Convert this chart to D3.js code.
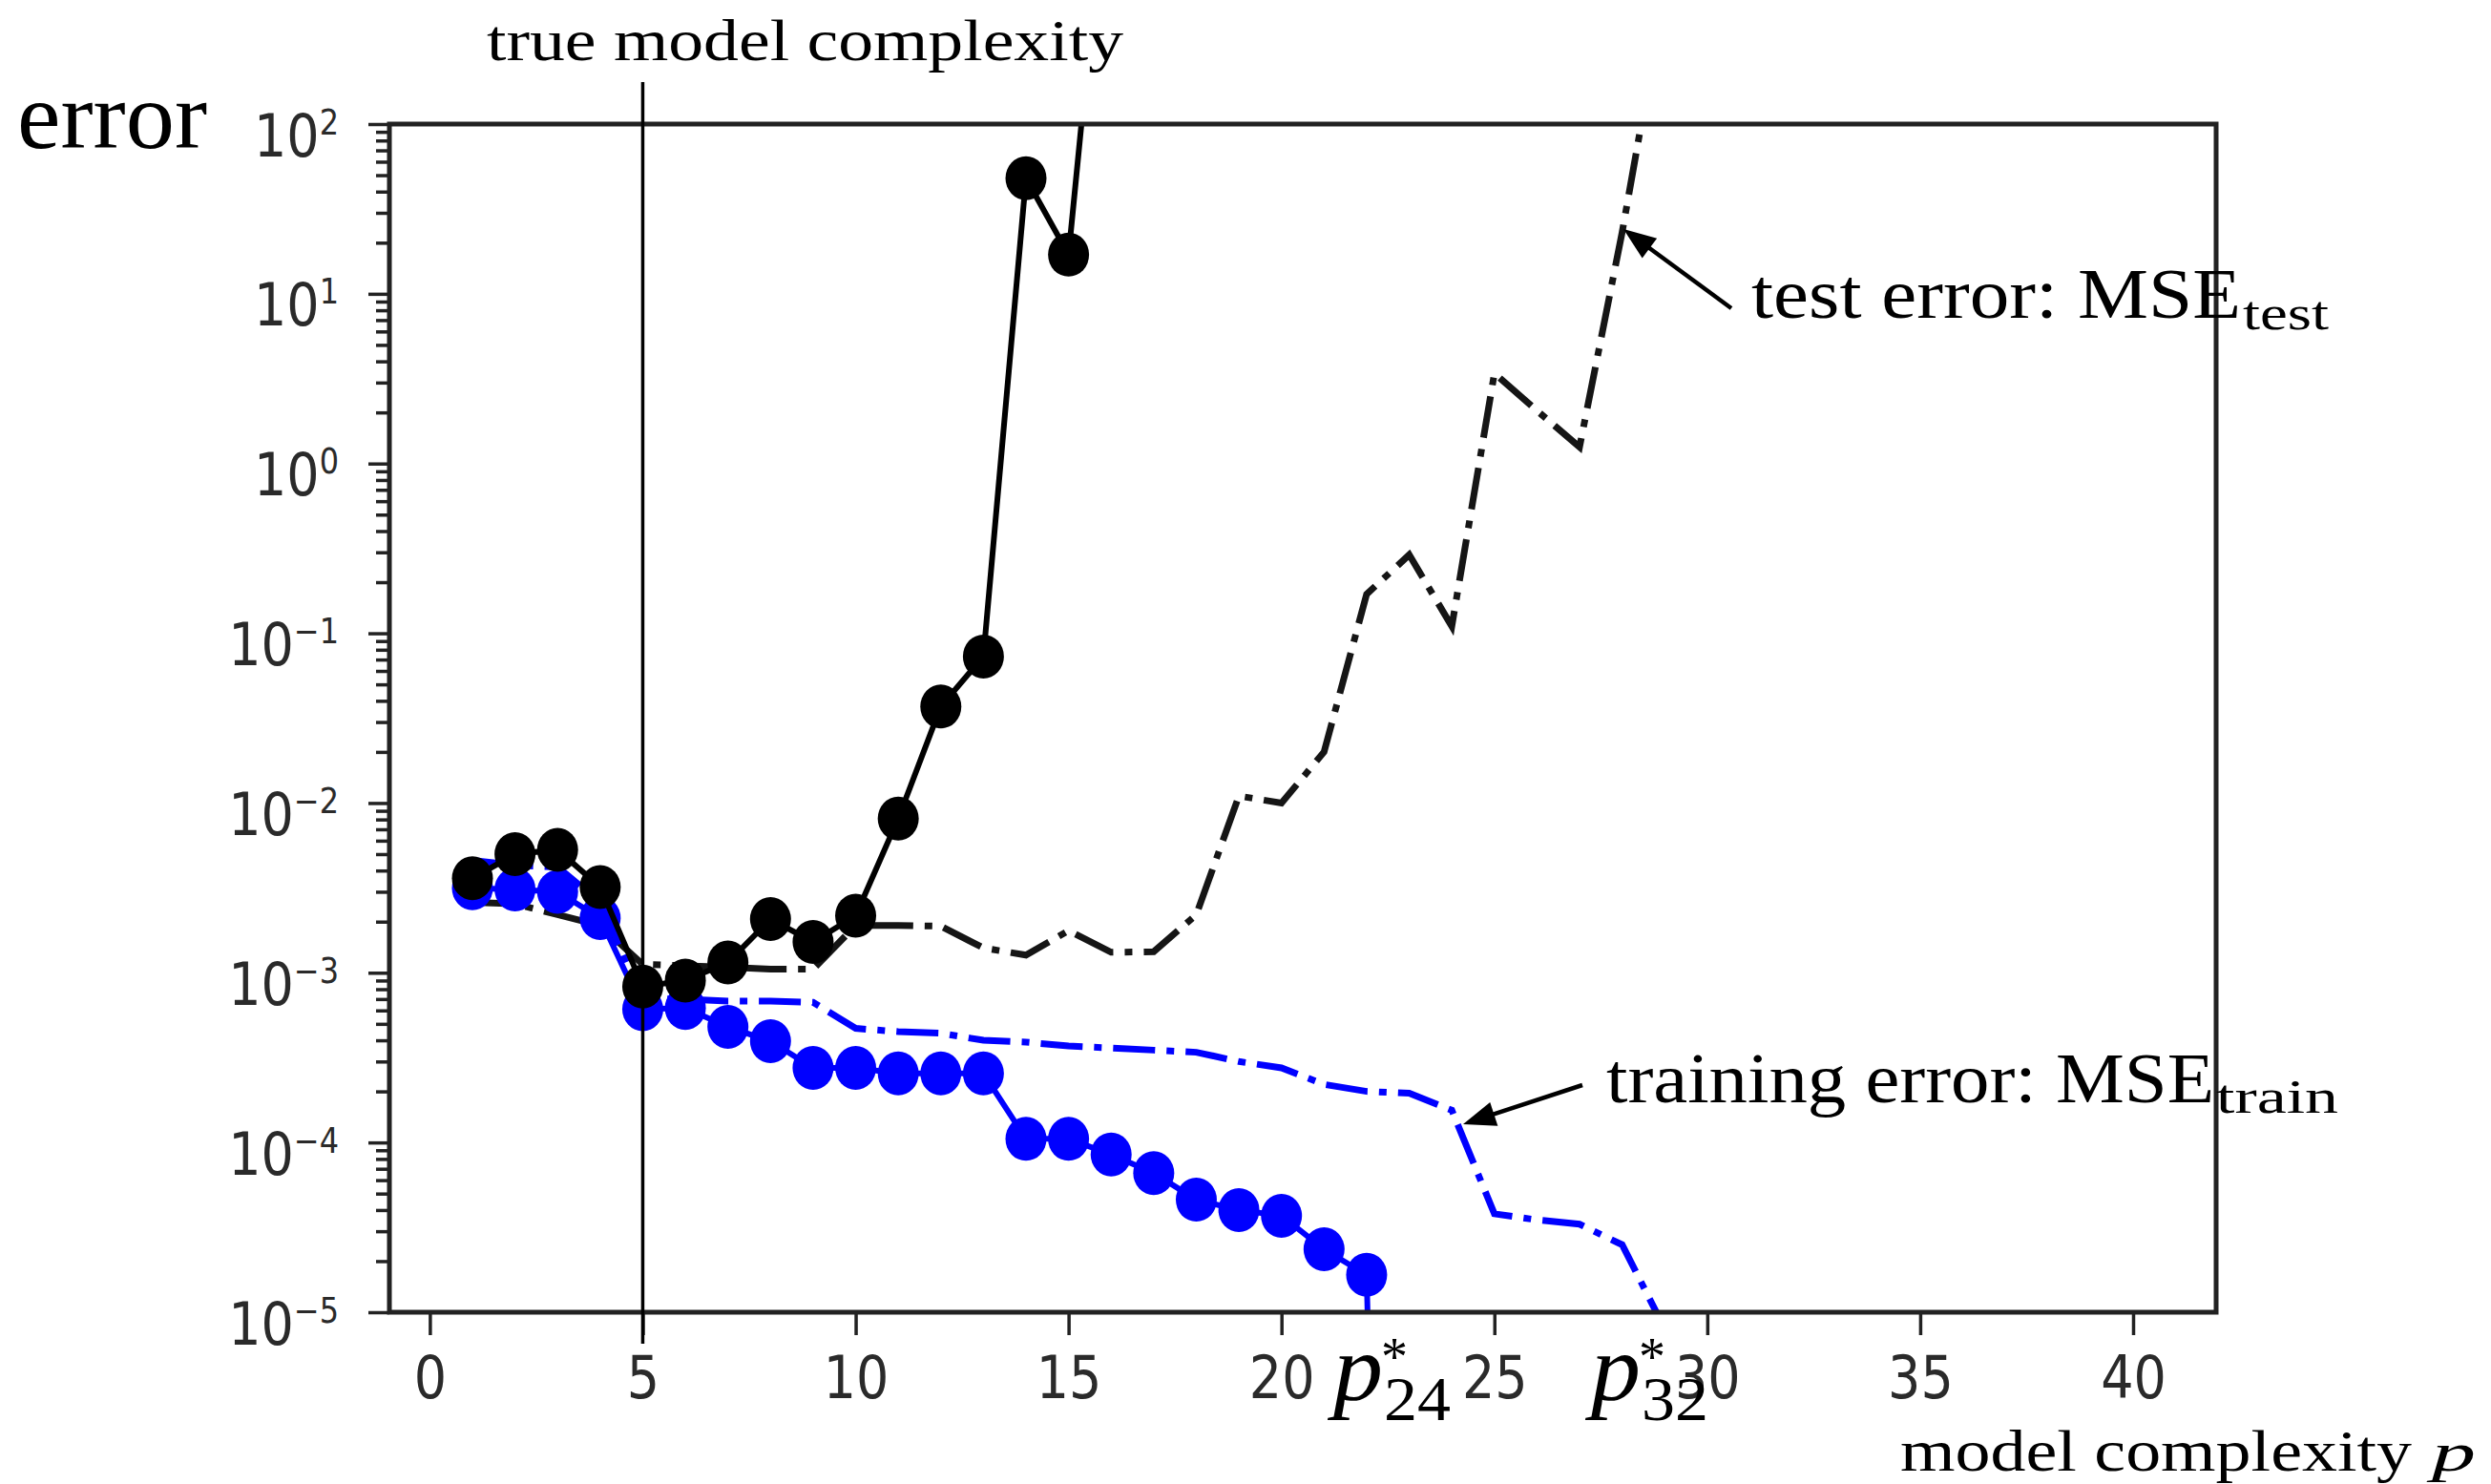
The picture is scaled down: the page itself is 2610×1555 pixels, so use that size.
<!DOCTYPE html>
<html>
<head>
<meta charset="utf-8">
<script src="https://cdn.jsdelivr.net/npm/d3@7/dist/d3.min.js"></script>
<style>
  body { margin: 0; background: #fff; }
  svg { display: block; }
</style>
</head>
<body>
<div id="content"></div>
<script>
// values, series start at p = 1
var testPoly = [3.6e-3, 5.0e-3, 5.3e-3, 3.2e-3, 8.3e-4, 9.0e-4, 1.15e-3, 2.07e-3, 1.52e-3, 2.17e-3,
                8.1e-3, 0.037, 0.073, 48, 17, 6000];
var trainPoly = [3.15e-3, 3.1e-3, 3.0e-3, 2.1e-3, 6.1e-4, 6.2e-4, 4.8e-4, 3.95e-4, 2.75e-4, 2.75e-4,
                 2.55e-4, 2.55e-4, 2.55e-4, 1.05e-4, 1.05e-4, 8.5e-5, 6.6e-5, 4.6e-5, 4.0e-5, 3.7e-5,
                 2.35e-5, 1.66e-5, 1e-15];
var testOther = [2.6e-3, 2.55e-3, 2.2e-3, 1.9e-3, 1.12e-3, 1.1e-3, 1.08e-3, 1.05e-3, 1.05e-3, 1.9e-3,
                 1.9e-3, 1.88e-3, 1.4e-3, 1.27e-3, 1.77e-3, 1.32e-3, 1.33e-3, 2.2e-3, 0.011, 0.0100,
                 0.020, 0.17, 0.29, 0.11, 3.4, 2.05, 1.25, 23, 600];
var trainOther = [4.6e-3, 4.3e-3, 4.2e-3, 2.6e-3, 7.0e-4, 7.0e-4, 6.8e-4, 6.8e-4, 6.7e-4, 4.7e-4,
                  4.5e-4, 4.4e-4, 4.0e-4, 3.9e-4, 3.7e-4, 3.6e-4, 3.5e-4, 3.4e-4, 3.0e-4, 2.75e-4,
                  2.2e-4, 2.0e-4, 1.95e-4, 1.55e-4, 3.8e-5, 3.5e-5, 3.3e-5, 2.5e-5, 8e-6];
var trueP = 5;
var xTicks = [0, 5, 10, 15, 20, 25, 30, 35, 40];
var yExponents = [-5, -4, -3, -2, -1, 0, 1, 2];
var pStars = [{p: 'p', sub: '24'}, {p: 'p', sub: '32'}];

var width = 2610, height = 1555;
var plotL = 408, plotR = 2322, plotT = 130, plotB = 1375;
var serif = '"Liberation Serif", "Times New Roman", serif';
var sans = '"DejaVu Sans", sans-serif';

var svg = d3.select('#content').append('svg')
  .attr('width', width).attr('height', height);

var x = d3.scaleLinear().domain([-0.95, 41.95]).range([plotL, plotR]);
var y = d3.scaleLog().domain([1e-5, 1e2]).range([plotB, plotT]);

function toPoints(arr) {
  return arr.map(function(v, i) { return {p: i + 1, v: v}; });
}

svg.append('clipPath').attr('id', 'plotclip')
  .append('rect')
  .attr('x', plotL).attr('y', plotT)
  .attr('width', plotR - plotL).attr('height', plotB - plotT);

var plot = svg.append('g').attr('clip-path', 'url(#plotclip)');
var line = d3.line().x(function(d) { return x(d.p); }).y(function(d) { return y(d.v); });

// dash-dot curves
plot.append('path').datum(toPoints(testOther))
  .attr('d', line).attr('fill', 'none')
  .attr('stroke', '#151515').attr('stroke-width', 7)
  .attr('stroke-dasharray', '44,12,8,12');
plot.append('path').datum(toPoints(trainOther))
  .attr('d', line).attr('fill', 'none')
  .attr('stroke', '#0000ff').attr('stroke-width', 7)
  .attr('stroke-dasharray', '44,12,8,12');

// solid curves with markers
[[trainPoly, '#0000ff'], [testPoly, '#000']].forEach(function(s) {
  var pts = toPoints(s[0]);
  plot.append('path').datum(pts)
    .attr('d', line).attr('fill', 'none')
    .attr('stroke', s[1]).attr('stroke-width', 6);
  plot.selectAll(null).data(pts).enter().append('ellipse')
    .attr('cx', function(d) { return x(d.p); })
    .attr('cy', function(d) { return y(d.v); })
    .attr('rx', 21.5).attr('ry', 23).attr('fill', s[1]);
});

// axes
var majors = yExponents.map(function(e) { return Math.pow(10, e); });
var minors = [];
yExponents.slice(0, -1).forEach(function(e) {
  for (var k = 2; k < 10; k++) minors.push(k * Math.pow(10, e));
});

var yAxis = svg.append('g').attr('transform', 'translate(' + plotL + ',0)')
  .call(d3.axisLeft(y).tickValues(majors).tickSize(22).tickFormat(''));
var yMinor = svg.append('g').attr('transform', 'translate(' + plotL + ',0)')
  .call(d3.axisLeft(y).tickValues(minors).tickSize(14).tickFormat(''));
var xAxis = svg.append('g').attr('transform', 'translate(0,' + plotB + ')')
  .call(d3.axisBottom(x).tickValues(xTicks).tickSize(24).tickFormat(''));

[yAxis, yMinor, xAxis].forEach(function(a) {
  a.select('.domain').remove();
  a.selectAll('line').attr('stroke', '#222').attr('stroke-width', 3.5);
});

var sy = 1.15;
yAxis.selectAll('.tick').each(function(d) {
  var e = Math.round(Math.log10(d));
  var t = d3.select(this).append('text')
    .attr('transform', 'scale(1,' + sy + ')')
    .attr('x', -53).attr('y', 33 / sy)
    .attr('text-anchor', 'end')
    .attr('fill', '#2a2a2a')
    .style('font-family', sans).style('font-size', '54px');
  t.append('tspan').text('10');
  t.append('tspan').attr('dy', -23 / sy).style('font-size', '32px')
    .text(e < 0 ? '\u2212' + (-e) : String(e));
});

xAxis.selectAll('.tick').each(function(d) {
  d3.select(this).append('text')
    .attr('transform', 'scale(1,' + sy + ')')
    .attr('x', 0).attr('y', 90 / sy)
    .attr('text-anchor', 'middle')
    .attr('fill', '#2a2a2a')
    .style('font-family', sans).style('font-size', '54px')
    .text(d);
});

// frame
svg.append('rect')
  .attr('x', plotL).attr('y', plotT)
  .attr('width', plotR - plotL).attr('height', plotB - plotT)
  .attr('fill', 'none').attr('stroke', '#222').attr('stroke-width', 5);

// true model complexity marker
svg.append('line')
  .attr('x1', x(trueP)).attr('x2', x(trueP))
  .attr('y1', 86).attr('y2', 1408)
  .attr('stroke', '#000').attr('stroke-width', 3.5);

// annotation text
function label(tx, ty, str, size, len, italic) {
  var t = svg.append('text')
    .attr('x', tx).attr('y', ty)
    .style('font-family', serif).style('font-size', size + 'px')
    .attr('fill', '#000')
    .text(str);
  if (len) t.attr('textLength', len).attr('lengthAdjust', 'spacingAndGlyphs');
  if (italic) t.style('font-style', 'italic');
  return t;
}

label(510, 63, 'true model complexity', 62, 667);
label(18, 155, 'error', 100, 199);
label(1835, 333, 'test error: MSE', 74, 513);
label(2350, 345, 'test', 50, 90);
label(1683, 1155, 'training error: MSE', 74, 637);
label(2322, 1166, 'train', 50, 128);
label(1991, 1541, 'model complexity', 62, 536);
label(2548, 1541, 'p', 58, 46, true);

// p* labels under the axis
var starX = [1397, 1667];
pStars.forEach(function(s, i) {
  var x0 = starX[i];
  label(x0, 1467, s.p, 100, 52, true);
  label(x0 + 50, 1441, '*', 56);
  label(x0 + 53, 1488, s.sub, 66, 70);
});

// arrows
function arrow(x1, y1, x2, y2) {
  var dx = x2 - x1, dy = y2 - y1, len = Math.sqrt(dx * dx + dy * dy);
  var ux = dx / len, uy = dy / len, hl = 34, hw = 13;
  var bx = x2 - ux * hl, by = y2 - uy * hl;
  svg.append('line')
    .attr('x1', x1).attr('y1', y1)
    .attr('x2', bx + ux * 4).attr('y2', by + uy * 4)
    .attr('stroke', '#000').attr('stroke-width', 4.5);
  svg.append('path')
    .attr('d', 'M' + x2 + ',' + y2 +
      'L' + (bx - uy * hw) + ',' + (by + ux * hw) +
      'L' + (bx + uy * hw) + ',' + (by - ux * hw) + 'Z')
    .attr('fill', '#000');
}
arrow(1814, 323, 1701, 240);
arrow(1658, 1137, 1533, 1178);
</script>
</body>
</html>
